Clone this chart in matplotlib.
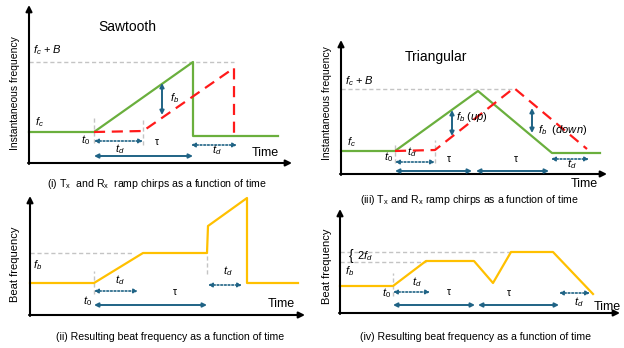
import matplotlib
matplotlib.use('Agg')
from matplotlib import pyplot as plt

plt.rcParams['font.family'] = ['Liberation Sans', 'DejaVu Sans']
plt.rcParams['mathtext.fontset'] = 'custom'
plt.rcParams['mathtext.rm'] = 'Liberation Sans'
plt.rcParams['mathtext.it'] = 'Liberation Sans:italic'

GREEN = '#6aaf3d'
RED = '#ff1a1a'
YELLOW = '#ffc000'
BLUE = '#1f6385'
GREY = '#c4c4c4'

# (i) sawtooth chirps: time / frequency breakpoints
saw_tx_t = [0, 65, 164, 164, 249]
saw_tx_f = [31, 31, 101, 27, 27]
saw_rx_t = [65, 114, 205, 205]
saw_rx_f = [31, 32, 95, 27]

# (ii) sawtooth beat frequency
saw_beat_t = [0, 64, 113, 177, 178, 217, 217, 268]
saw_beat_f = [32, 32, 62, 62, 89, 117, 32, 32]

# (iii) triangular chirps
tri_tx_t = [0, 54, 137, 211, 259]
tri_tx_f = [23, 23, 83, 21, 21]
tri_rx_t = [54, 94, 173, 246]
tri_rx_f = [23, 24, 86, 25]

# (iv) triangular beat frequency
tri_beat_t = [0, 53, 86, 134, 153, 171, 213, 253]
tri_beat_f = [27, 27, 52, 52, 30, 61, 61, 19]

W_PX, H_PX = 624, 348
fig = plt.figure(figsize=(W_PX / 100, H_PX / 100), dpi=100)


def make_axes(ox, oy, w, h):
    # origin in pixels (top-left image coords), w/h = axis arrow lengths
    ax = fig.add_axes([ox / W_PX, (H_PX - oy) / H_PX, w / W_PX, h / H_PX])
    ax.set_xlim(0, w)
    ax.set_ylim(0, h)
    ax.axis('off')
    ax.annotate('', xy=(w, 0), xytext=(-1, 0), annotation_clip=False,
                arrowprops=dict(arrowstyle='-|>', color='black', lw=1.5,
                                mutation_scale=9, shrinkA=0, shrinkB=0))
    ax.annotate('', xy=(0, h), xytext=(0, -1), annotation_clip=False,
                arrowprops=dict(arrowstyle='-|>', color='black', lw=1.5,
                                mutation_scale=9, shrinkA=0, shrinkB=0))
    return ax


def span(ax, t0, t1, f, dotted=False):
    ax.annotate('', xy=(t1, f), xytext=(t0, f), annotation_clip=False,
                arrowprops=dict(arrowstyle='<|-|>', color=BLUE,
                                lw=1.2 if dotted else 1.4,
                                linestyle=(0, (1, 1.2)) if dotted else '-',
                                mutation_scale=6, shrinkA=0, shrinkB=0))


def vspan(ax, t, f0, f1):
    ax.annotate('', xy=(t, f1), xytext=(t, f0), annotation_clip=False,
                arrowprops=dict(arrowstyle='<|-|>', color=BLUE, lw=1.4,
                                mutation_scale=6, shrinkA=0, shrinkB=0))


def guide(ax, ts, fs):
    ax.plot(ts, fs, color=GREY, lw=1, ls=(0, (3, 2)), clip_on=False)


def txt(ax, t, f, s, size=8, **kw):
    ax.text(t, f, s, fontsize=size, ha=kw.pop('ha', 'center'),
            va=kw.pop('va', 'center'), clip_on=False, **kw)


# ---------- (i) sawtooth ----------
ax = make_axes(29, 163, 263, 158)
guide(ax, [0, 205], [101, 101])
guide(ax, [65, 65], [20, 46])
guide(ax, [114, 114], [18, 43])
ax.plot(saw_tx_t, saw_tx_f, color=GREEN, lw=1.6, clip_on=False)
ax.plot(saw_rx_t, saw_rx_f, color=RED, lw=1.6, ls=(0, (5, 3)), clip_on=False)
vspan(ax, 133, 48, 80)
txt(ax, 141, 65, r'$f_b$', ha='left')
txt(ax, 4, 113, r'$f_c$ + $B$', ha='left')
txt(ax, 6, 41, r'$f_c$', ha='left')
txt(ax, 98, 136, 'Sawtooth', size=10)
txt(ax, 57, 23, r'$t_0$')
span(ax, 65, 114, 22, dotted=True)
txt(ax, 91, 14, r'$t_d$')
txt(ax, 128, 21, 'τ', size=7.5)
span(ax, 65, 164, 7)
span(ax, 162, 208, 18, dotted=True)
txt(ax, 188, 13, r'$t_d$')
txt(ax, 236, 10, 'Time', size=9)
txt(ax, -14, 70, 'Instantaneous frequency', size=7.5, rotation=90)

# ---------- (ii) sawtooth beat ----------
ax = make_axes(30, 315, 275, 119)
guide(ax, [0, 102], [62, 62])
guide(ax, [64, 64], [21, 44])
guide(ax, [177, 177], [41, 62])
ax.plot(saw_beat_t, saw_beat_f, color=YELLOW, lw=1.6, clip_on=False)
txt(ax, 3, 50, r'$f_b$', ha='left')
txt(ax, 58, 14, r'$t_0$')
span(ax, 64, 108, 24, dotted=True)
txt(ax, 90, 35, r'$t_d$')
txt(ax, 145, 23, 'τ', size=7.5)
span(ax, 64, 177, 10)
span(ax, 178, 212, 30, dotted=True)
txt(ax, 198, 44, r'$t_d$')
txt(ax, 251, 11, 'Time', size=9)
txt(ax, -15, 51, 'Beat frequency', size=8, rotation=90)

# ---------- (iii) triangular ----------
ax = make_axes(341, 174, 266, 134)
guide(ax, [0, 173], [85, 85])
guide(ax, [54, 54], [11, 31])
guide(ax, [94, 94], [11, 34])
ax.plot(tri_tx_t, tri_tx_f, color=GREEN, lw=1.6, clip_on=False)
ax.plot(tri_rx_t, tri_rx_f, color=RED, lw=1.6, ls=(0, (5, 3)), clip_on=False)
vspan(ax, 111, 38, 64)
txt(ax, 115, 57, r'$f_b$ $(up)$', ha='left')
vspan(ax, 191, 41, 66)
txt(ax, 197, 44, r'$f_b$  $(down)$', ha='left')
txt(ax, 4, 93, r'$f_c$ + $B$', ha='left')
txt(ax, 6, 32, r'$f_c$', ha='left')
txt(ax, 95, 117, 'Triangular', size=10)
txt(ax, 48, 17, r'$t_0$')
span(ax, 54, 94, 12, dotted=True)
txt(ax, 71, 22, r'$t_d$')
txt(ax, 108, 15, 'τ', size=7.5)
txt(ax, 175, 15, 'τ', size=7.5)
span(ax, 54, 131, 3)
span(ax, 135, 208, 3)
span(ax, 210, 248, 15, dotted=True)
txt(ax, 231, 10, r'$t_d$')
txt(ax, 243, -10, 'Time', size=9)
txt(ax, -14, 71, 'Instantaneous frequency', size=7.5, rotation=90)

# ---------- (iv) triangular beat ----------
ax = make_axes(340, 313, 280, 104)
guide(ax, [0, 171], [61, 61])
guide(ax, [0, 86], [51, 51])
guide(ax, [53, 53], [17, 40])
ax.plot(tri_beat_t, tri_beat_f, color=YELLOW, lw=1.6, clip_on=False)
txt(ax, 11, 57, '{', size=10)
txt(ax, 17, 57, r'$2f_d$', ha='left')
txt(ax, 5, 42, r'$f_b$', ha='left')
txt(ax, 47, 20, r'$t_0$')
span(ax, 53, 90, 21, dotted=True)
txt(ax, 77, 31, r'$t_d$')
txt(ax, 109, 21, 'τ', size=7.5)
txt(ax, 169, 20, 'τ', size=7.5)
span(ax, 53, 135, 8)
span(ax, 138, 219, 8)
span(ax, 219, 250, 20, dotted=True)
txt(ax, 239, 11, r'$t_d$')
txt(ax, 267, 6, 'Time', size=9)
txt(ax, -13, 47, 'Beat frequency', size=8, rotation=90)

# captions
fig.text(157 / W_PX, 1 - 184 / H_PX,
         r'(i) T$_\mathregular{x}$  and R$_\mathregular{x}$  ramp chirps as a function of time',
         fontsize=7.6, ha='center', va='center')
fig.text(170 / W_PX, 1 - 337 / H_PX,
         '(ii) Resulting beat frequency as a function of time',
         fontsize=7.6, ha='center', va='center')
fig.text(469 / W_PX, 1 - 200 / H_PX,
         r'(iii) T$_\mathregular{x}$ and R$_\mathregular{x}$ ramp chirps as a function of time',
         fontsize=7.6, ha='center', va='center')
fig.text(475 / W_PX, 1 - 337 / H_PX,
         '(iv) Resulting beat frequency as a function of time',
         fontsize=7.6, ha='center', va='center')

fig.savefig('out.png', dpi=100)
